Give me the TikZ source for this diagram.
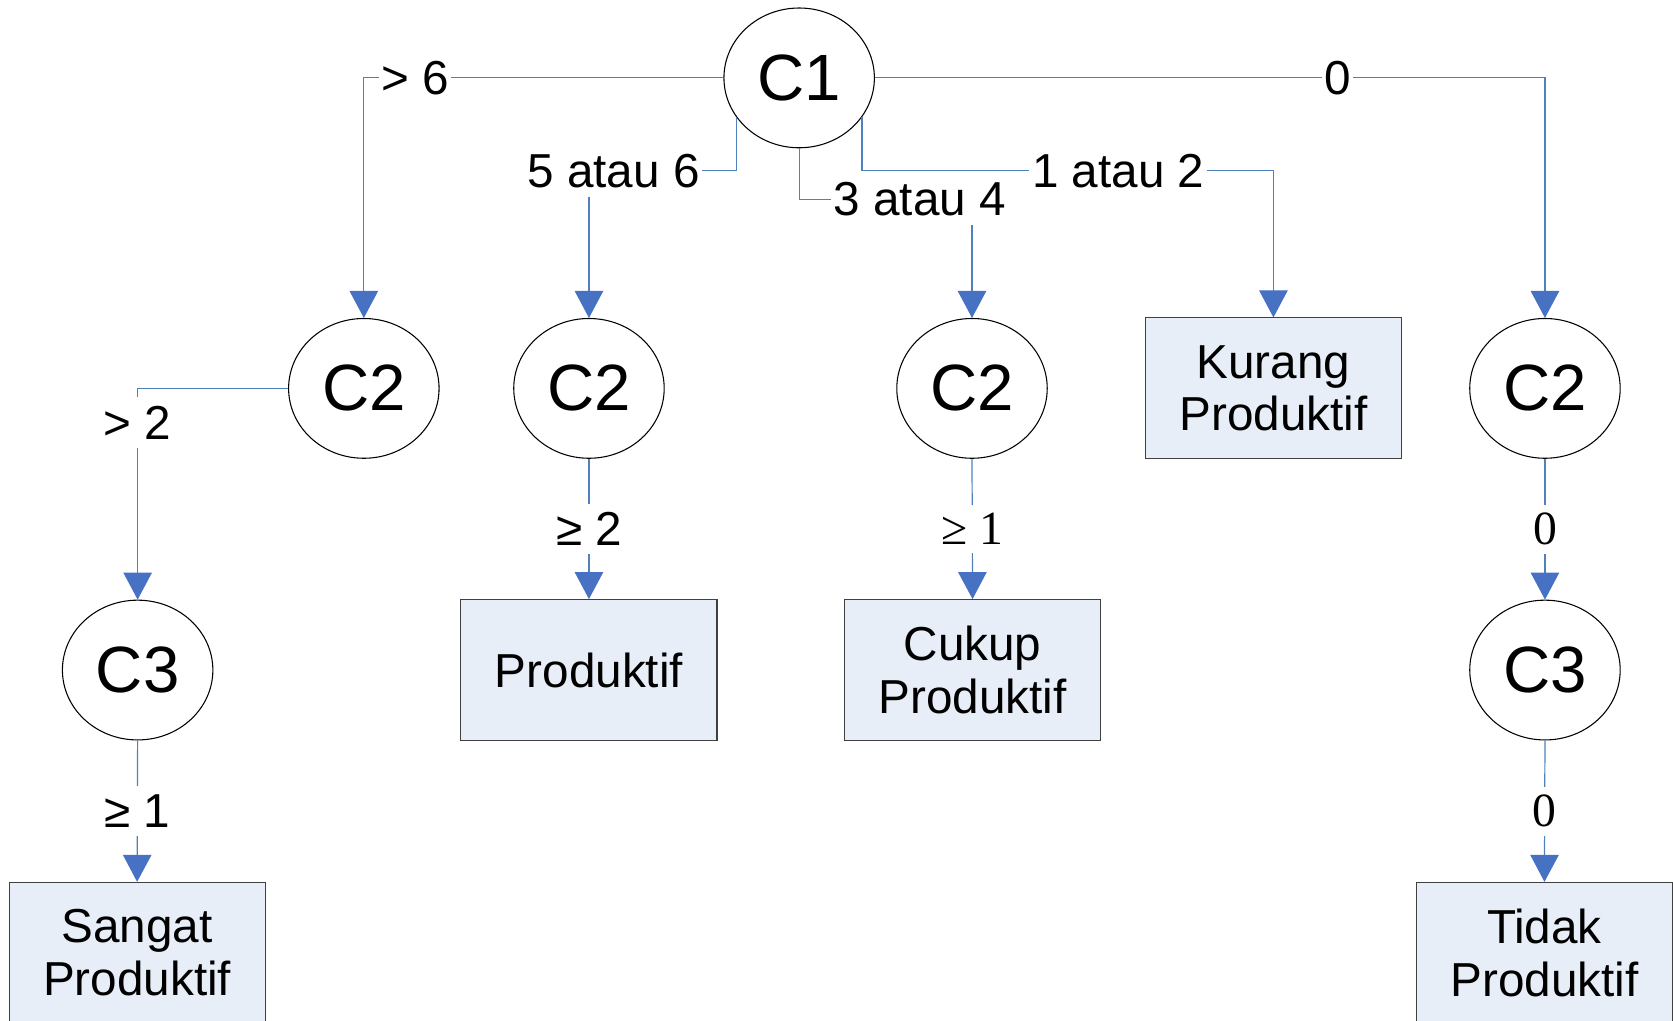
\documentclass[tikz,border=0pt]{standalone}
\usepackage{fontspec}
\setmainfont{Liberation Sans}
\newfontfamily\timesfont{Liberation Serif}
\usetikzlibrary{shapes.geometric,arrows.meta}

\definecolor{linkblue}{RGB}{79,129,189}
\definecolor{tipblue}{RGB}{71,114,196}
\definecolor{boxfill}{RGB}{232,238,247}
\definecolor{boxline}{RGB}{64,64,64}

\tikzset{every picture/.style={line width=0.75pt}}
\tikzset{
  crit/.style={ellipse, draw, minimum width=105.75pt, minimum height=98.25pt, inner sep=0pt, font=\fontsize{46}{50}\selectfont},
  leaf/.style={rectangle, draw=boxline, fill=boxfill, minimum width=180pt, minimum height=99pt, inner sep=0pt, align=center, font=\fontsize{33.5}{37}\selectfont},
  cond/.style={fill=white, inner xsep=1.5pt, inner ysep=6pt, font=\fontsize{33.5}{37}\selectfont},
  condrm/.style={cond, font=\fontsize{33.5}{37}\timesfont},
  link/.style={draw=linkblue, line width=0.85pt},
  arr/.style={link, -{Triangle[width=20pt,length=19pt,color=tipblue]}}
}

\begin{document}
\begin{tikzpicture}[x=0.75pt,y=0.75pt,yscale=-1,xscale=1]
    \useasboundingbox (0,0) rectangle (1568,956);

    %Shape: Ellipse
    \node[crit] (C1) at (749,73) {C1};
    \node[crit] (C2a) at (341,364) {C2};
    \node[crit] (C2b) at (552,364) {C2};
    \node[crit] (C2c) at (911,364) {C2};
    \node[crit] (C2d) at (1448,364) {C2};
    \node[crit] (C3a) at (129,628) {C3};
    \node[crit] (C3b) at (1448,628) {C3};

    %Shape: Rectangle
    \node[leaf] (kurang) at (1193.5,364) {Kurang\\Produktif};
    \node[leaf] (prod) at (552,628) {Produktif};
    \node[leaf] (cukup) at (911.5,628) {Cukup\\Produktif};
    \node[leaf] (sangat) at (128.5,893) {Sangat\\Produktif};
    \node[leaf] (tidak) at (1447.5,893) {Tidak\\Produktif};

    % Text Node
    \node[cond] (l56) at (575,160) {5 atau 6};
    \node[cond] (l34) at (862,187) {3 atau 4};
    \node[cond] (l12) at (1048,160) {1 atau 2};

    %Connectors from C1
    \draw[arr] (C1.west) -- node[cond, pos=0.858] {> 6} (C1.west -| C2a.north) -- (C2a.north);
    \draw[link] (C1.212) |- (l56.east);
    \draw[arr] (l56.south -| C2b.north) -- (C2b.north);
    \draw[link] (C1.south) |- (l34.west);
    \draw[arr] (l34.south -| C2c.north) -- (C2c.north);
    \draw[link] (C1.328) |- (l12.west);
    \draw[arr] (l12.east) -| (kurang.north);
    \draw[arr] (C1.east) -- node[cond, pos=0.69] {0} (C1.east -| C2d.north) -- (C2d.north);

    %Connectors from C2 and C3
    \draw[arr] (C2a.west) -| node[cond, pos=0.581] {> 2} (C3a.north);
    \draw[arr] (C2b.south) -- node[cond] {≥ 2} (prod.north);
    \draw[arr] (C2c.south) -- node[condrm] {≥ 1} (cukup.north);
    \draw[arr] (C2d.south) -- node[condrm] {0} (C3b.north);
    \draw[arr] (C3a.south) -- node[cond] {≥ 1} (sangat.north);
    \draw[arr] (C3b.south) -- node[condrm] {0} (tidak.north);

\end{tikzpicture}
\end{document}
